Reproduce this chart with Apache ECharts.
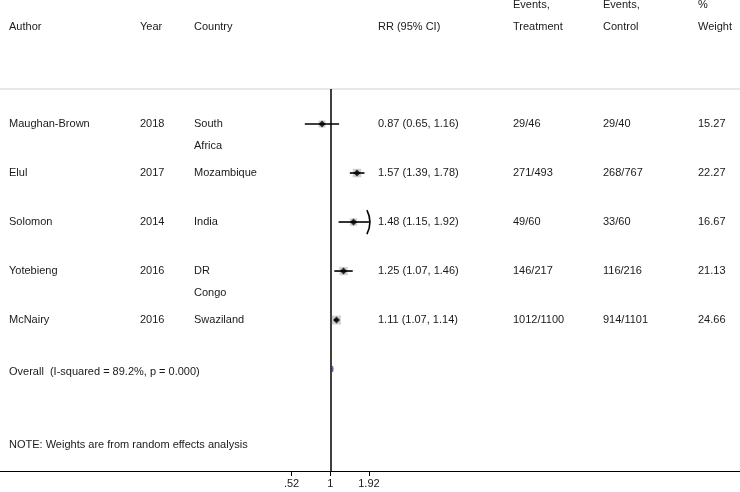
<!DOCTYPE html>
<html>
<head>
<meta charset="utf-8">
<script src="https://cdn.jsdelivr.net/npm/echarts@6/dist/echarts.min.js"></script>
<style>
html,body{margin:0;padding:0;background:#fff;}
#c{width:740px;height:492px;}
</style>
</head>
<body>
<div id="c"></div>
<script>
// ---- data ----
const authors = ['Maughan-Brown', 'Elul', 'Solomon', 'Yotebieng', 'McNairy'];
const years = ['2018', '2017', '2014', '2016', '2016'];
const countries = [['South', 'Africa'], ['Mozambique'], ['India'], ['DR', 'Congo'], ['Swaziland']];
const rr = [0.87, 1.57, 1.48, 1.25, 1.11];
const lo = [0.65, 1.39, 1.15, 1.07, 1.07];
const hi = [1.16, 1.78, 1.92, 1.46, 1.14];
const treatment = ['29/46', '271/493', '49/60', '146/217', '1012/1100'];
const control = ['29/40', '268/767', '33/60', '116/216', '914/1101'];
const weights = [15.27, 22.27, 16.67, 21.13, 24.66];
const overall = [1.03, 1.04, 1.05]; // lo, est, hi (as drawn)
const overallText = 'Overall  (I-squared = 89.2%, p = 0.000)';
const noteText = 'NOTE: Weights are from random effects analysis';
const tickValues = [0.52, 1, 1.92];
const tickLabels = ['.52', '1', '1.92'];

const ln = Math.log;
const lnTicks = tickValues.map(ln);
const axisMaxRR = tickValues[tickValues.length - 1];
const FONT = 'Liberation Sans, Arial, sans-serif';
const TXT = '#1a1a1a';

const chart = echarts.init(document.getElementById('c'), null, {renderer: 'canvas'});

const ciData = rr.map((v, i) => [ln(lo[i]), ln(hi[i]), i + 1, hi[i] >= axisMaxRR ? 1 : 0]);
const boxData = rr.map((v, i) => [ln(v), i + 1, weights[i]]);
const ptData = rr.map((v, i) => [ln(v), i + 1]);

chart.setOption({
  animation: false,
  grid: {left: 0, right: 0, top: 89, bottom: 21, containLabel: false},
  xAxis: {
    type: 'value', min: -5.575, max: 6.915,
    axisLine: {show: true, lineStyle: {color: '#000', width: 1}},
    axisTick: {show: true, customValues: lnTicks, length: 5, lineStyle: {color: '#000', width: 1}},
    axisLabel: {
      show: true, customValues: lnTicks, fontSize: 11, fontFamily: FONT, color: TXT, margin: 7,
      formatter: v => { const k = lnTicks.findIndex(t => Math.abs(t - v) < 1e-6); return k >= 0 ? tickLabels[k] : ''; }
    },
    splitLine: {show: false}
  },
  yAxis: {type: 'value', inverse: true, min: 0.286, max: 8.08, show: false},
  series: [
    {
      type: 'scatter', data: boxData, symbol: 'rect',
      symbolSize: d => 1.8 * Math.sqrt(d[2]),
      itemStyle: {color: '#c4c4c4'}, z: 2, silent: true,
      markLine: {
        silent: true, symbol: 'none', label: {show: false},
        lineStyle: {color: '#000', width: 1.5, type: 'solid'},
        data: [{xAxis: 0}]
      }
    },
    {
      type: 'custom', data: ciData, z: 3, silent: true,
      renderItem: (params, api) => {
        const a = api.coord([api.value(0), api.value(2)]);
        const b = api.coord([api.value(1), api.value(2)]);
        const children = [{
          type: 'line', shape: {x1: a[0], y1: a[1], x2: b[0], y2: b[1]},
          style: {stroke: '#000', lineWidth: 1.6}
        }];
        if (api.value(3) === 1) {
          children.push({
            type: 'bezierCurve',
            shape: {x1: b[0] - 2, y1: b[1] - 12, x2: b[0] - 2, y2: b[1] + 12, cpx1: b[0] + 4, cpy1: b[1]},
            style: {stroke: '#000', lineWidth: 1.6, fill: null}
          });
        }
        return {type: 'group', children};
      }
    },
    {
      type: 'scatter', data: ptData, symbol: 'diamond', symbolSize: 7,
      itemStyle: {color: '#000'}, z: 4, silent: true
    },
    {
      type: 'custom', data: [[ln(overall[0]), ln(overall[1]), ln(overall[2]), 6]], z: 4, silent: true,
      renderItem: (params, api) => {
        const y = api.value(3);
        const l = api.coord([api.value(0), y]);
        const m = api.coord([api.value(1), y]);
        const r = api.coord([api.value(2), y]);
        return {
          type: 'polygon',
          shape: {points: [[l[0], l[1]], [m[0], m[1] - 3], [r[0], r[1]], [m[0], m[1] + 3]]},
          style: {fill: '#5a5a9a', stroke: '#5a5a9a', lineWidth: 0.8}
        };
      }
    }
  ]
});

// ---- text columns ----
const rowY = i => chart.convertToPixel({gridIndex: 0}, [0, i])[1];
const txt = (x, y, s) => ({
  type: 'text', x, y, silent: true,
  style: {text: s, font: '11px ' + FONT, fill: TXT, textVerticalAlign: 'middle', textAlign: 'left'}
});
const g = [];
// top rule
g.push({type: 'line', silent: true, shape: {x1: 0, y1: 89, x2: 740, y2: 89}, style: {stroke: '#cfcfcf', lineWidth: 1}});
// headers
g.push(txt(9, 27, 'Author'), txt(140, 27, 'Year'), txt(194, 27, 'Country'), txt(378, 27, 'RR (95% CI)'));
g.push(txt(513, 5, 'Events,'), txt(513, 27, 'Treatment'));
g.push(txt(603, 5, 'Events,'), txt(603, 27, 'Control'));
g.push(txt(698, 5, '%'), txt(698, 27, 'Weight'));
authors.forEach((a, i) => {
  const y = rowY(i + 1);
  g.push(txt(9, y, a), txt(140, y, years[i]));
  countries[i].forEach((c, k) => g.push(txt(194, y + 22 * k, c)));
  g.push(txt(378, y, rr[i].toFixed(2) + ' (' + lo[i].toFixed(2) + ', ' + hi[i].toFixed(2) + ')'));
  g.push(txt(513, y, treatment[i]), txt(603, y, control[i]), txt(698, y, weights[i].toFixed(2)));
});
g.push(txt(9, rowY(6) + 3, overallText));
g.push(txt(9, 445, noteText));
chart.setOption({graphic: {elements: g}});
</script>
</body>
</html>
